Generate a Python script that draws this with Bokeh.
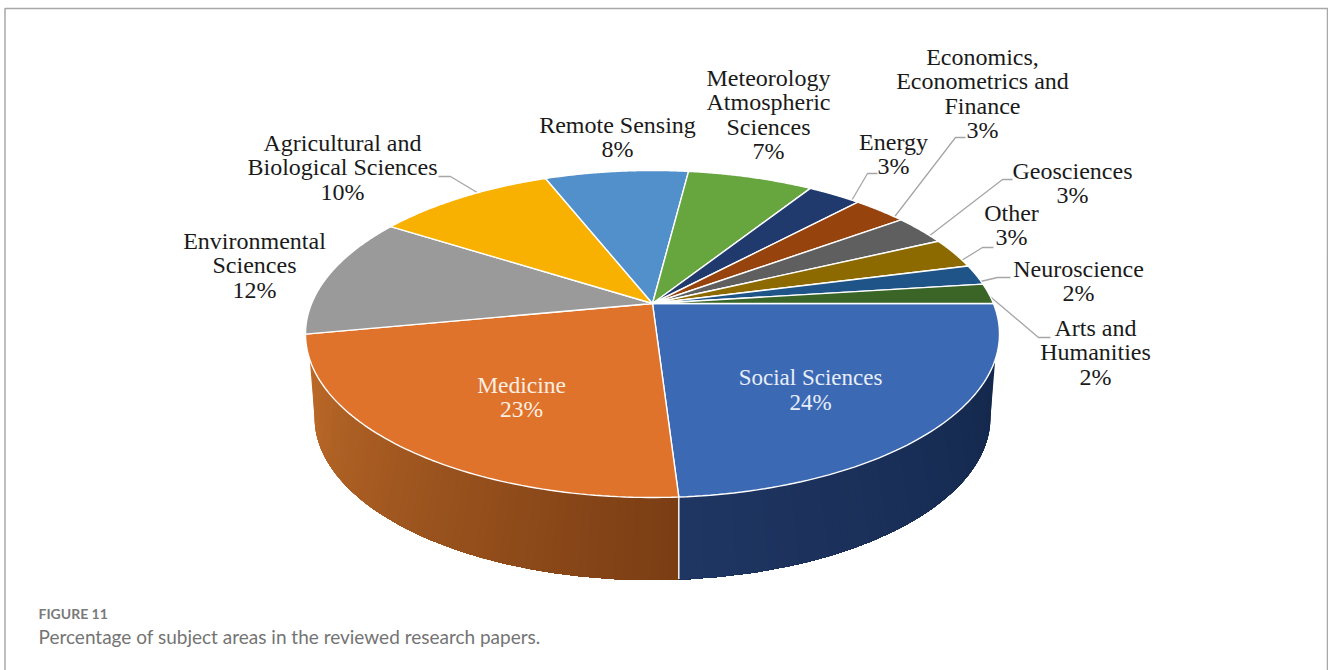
import numpy as np
from bokeh.core.properties import value
from bokeh.embed import file_html
from bokeh.models import ColumnDataSource, Range1d
from bokeh.plotting import figure
from bokeh.resources import INLINE

# Subject areas, clockwise from the three o'clock position
subjects = ["Social Sciences", "Medicine", "Environmental Sciences",
            "Agricultural and Biological Sciences", "Remote Sensing",
            "Meteorology Atmospheric Sciences", "Energy",
            "Economics, Econometrics and Finance", "Geosciences", "Other",
            "Neuroscience", "Arts and Humanities"]
shares = [24, 23, 12, 10, 8, 7, 3, 3, 3, 3, 2, 2]
colors = ["#3C69B4", "#E0732B", "#9A9A9A", "#F8B100", "#5290CB", "#67A53F",
          "#203A6E", "#97430E", "#5F5F5F", "#8D6A00", "#1E5487", "#3B6427"]

label_lines = [["Social Sciences"], ["Medicine"], ["Environmental", "Sciences"],
               ["Agricultural and", "Biological Sciences"], ["Remote Sensing"],
               ["Meteorology", "Atmospheric", "Sciences"], ["Energy"],
               ["Economics,", "Econometrics and", "Finance"], ["Geosciences"],
               ["Other"], ["Neuroscience"], ["Arts and", "Humanities"]]
label_x = [810, 521, 254, 342, 617, 768, 893, 982, 1072, 1011, 1078, 1095]
label_top = [377, 384, 240, 142, 124, 77, 141, 56, 170, 212, 268, 327]
label_color = ["#E8EEF8", "#FBEFE4"] + ["#1A1A1A"] * 10
label_size = ["23px", "23.5px"] + ["24px"] * 10

# Elbowed leader lines: label end, elbow, pie end
leader_x = [[438, 450, 480], [877, 867, 850], [965, 955, 892],
            [1012, 1002, 928], [993, 982, 961], [1010, 997, 980], [1050, 1038, 986]]
leader_y = [[176, 176, 194], [173, 173, 202], [137, 137, 219],
            [179, 179, 236], [247, 247, 260], [277, 277, 281], [337, 337, 293]]

# Pie geometry: tilted disc seen in perspective
APEX_X, APEX_Y = 652.0, 303.0
NEAR, FAR = 194.0, 133.0           # apex to front and back of the rim
HALF_WIDTH = 347.0
RIM_CY = APEX_Y + (NEAR - FAR) / 2
RIM_RY = (NEAR + FAR) / 2
BASE_CY, BASE_RY, BASE_RX = RIM_CY + 83.0, 163.0, 338.0

K = -(NEAR - FAR) / (NEAR + FAR)
B = NEAR * (1 + K)
A = HALF_WIDTH * np.sqrt(1 - K ** 2)


def project(pct):
    """Map a cumulative percentage on the disc to page coordinates."""
    angle = np.radians(np.asarray(pct, dtype=float) * 3.6)
    u, v = np.cos(angle), np.sin(angle)
    den = 1 + K * v
    return APEX_X + A * u / den, APEX_Y + B * v / den


def mix(c0, c1, f):
    a = np.array([int(c0[i:i + 2], 16) for i in (1, 3, 5)])
    b = np.array([int(c1[i:i + 2], 16) for i in (1, 3, 5)])
    r = np.round(a + (b - a) * f).astype(int)
    return "#%02X%02X%02X" % tuple(r)


def wall(t_top0, t_top1, t_base0, t_base1, c0, c1, steps=60):
    """Side wall between the rim and base ellipses, as overlapping shaded strips."""
    xs, ys, fills = [], [], []
    s = np.linspace(0, 1, steps + 1)
    tt = np.radians(t_top0 + (t_top1 - t_top0) * s)
    tb = np.radians(t_base0 + (t_base1 - t_base0) * s)
    xt = APEX_X + HALF_WIDTH * np.cos(tt)
    yt = RIM_CY + RIM_RY * np.sin(tt)
    xb = APEX_X + BASE_RX * np.cos(tb)
    yb = BASE_CY + BASE_RY * np.sin(tb)
    for i in range(steps):
        # Each strip runs to the far end of the wall, so later ones paint over
        # it and no hairline gap can open between neighbours.
        xs.append(list(xt[i:]) + list(xb[i:][::-1]))
        ys.append(list(yt[i:]) + list(yb[i:][::-1]))
        fills.append(mix(c0, c1, (i + 0.5) / steps))
    return xs, ys, fills


p = figure(width=1328, height=670, output_backend="svg", toolbar_location=None,
           x_range=Range1d(0, 1328), y_range=Range1d(670, 0), min_border=0,
           outline_line_color=None, background_fill_color="#FFFFFF")
p.axis.visible = False
p.grid.visible = False

# Panel frame
p.line([4.5, 4.5, 1327, 1327], [670, 8, 8, 670], line_color="#A8A8A8", line_width=1.5)

# Side walls of the two front slices
cum = np.cumsum([0] + shares)
seam_x, seam_y = project(cum[1])
t_seam_top = np.degrees(np.arctan2((seam_y - RIM_CY) / RIM_RY, (seam_x - APEX_X) / HALF_WIDTH))
t_seam_base = np.degrees(np.arccos((seam_x - APEX_X) / BASE_RX))
for args in [(9.0, t_seam_top, 0.0, t_seam_base, "#14284C", "#1F3663"),
             (171.0, t_seam_top, 180.0, t_seam_base, "#BC6A28", "#7A3D14")]:
    xs, ys, fills = wall(*args)
    p.patches(xs, ys, fill_color=fills, line_color=None)
p.line([seam_x, seam_x], [seam_y, seam_y + 82], line_color="#F4F4F4", line_width=1.5)

# Leader lines sit under the disc
for lx, ly in zip(leader_x, leader_y):
    p.line(lx, ly, line_color="#A6A6A6", line_width=1.3)

# Slices of the top face
slice_xs, slice_ys = [], []
for start, stop in zip(cum[:-1], cum[1:]):
    px, py = project(np.linspace(start, stop, 80))
    slice_xs.append([APEX_X] + list(px))
    slice_ys.append([APEX_Y] + list(py))
p.patches("x", "y", fill_color="color", line_color="#FFFFFF", line_width=1.4,
          source=ColumnDataSource(dict(x=slice_xs, y=slice_ys, color=colors, name=subjects)))

# Data labels: name lines followed by the percentage
LINE_STEP = 24.5
for lines, share, x, top, col, size in zip(label_lines, shares, label_x, label_top,
                                           label_color, label_size):
    rows = lines + [f"{share}%"]
    p.text([x] * len(rows), [top + i * LINE_STEP for i in range(len(rows))], text=rows,
           text_color=col, text_align="center", text_baseline="middle",
           text_font=value("Liberation Serif"), text_font_size=size)

# Caption
p.text([38], [612.5], text=["FIGURE 11"], text_color="#7A7A7A", text_align="left",
       text_baseline="middle", text_font=value("Lato"), text_font_size="14px",
       text_font_style="bold")
p.text([38], [636], text=["Percentage of subject areas in the reviewed research papers."],
       text_color="#747474", text_align="left", text_baseline="middle",
       text_font=value("Lato"), text_font_size="19px")

open("out.html", "w").write(file_html(p, INLINE))
